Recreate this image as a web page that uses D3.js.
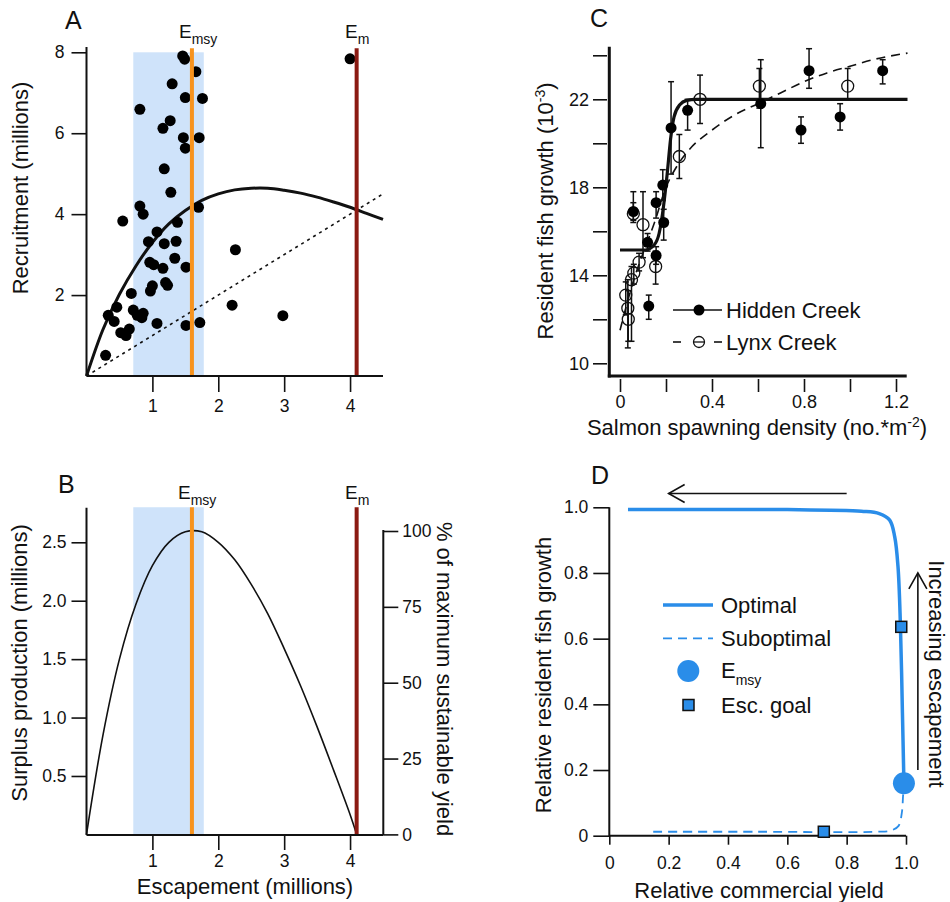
<!DOCTYPE html>
<meta charset="utf-8">
<title>Escapement, yield and resident fish growth</title>
<style>
  body { margin: 0; background: #fff; }
  svg { font-family: "Liberation Sans", Arial, Helvetica, sans-serif; }
  .tick text { font-size: 17.5px; fill: #111; }
  .tick line { stroke: #111; stroke-width: 1.6; }
  .title { font-size: 22px; fill: #111; }
  .letter { font-size: 25px; fill: #111; }
</style>
<svg width="950" height="902"></svg>
<script src="https://d3js.org/d3.v7.min.js"></script>
<script>

// ---- panel A : stock-recruitment ----
var spawners = [1.46, 1.49, 1.66, 1.30, 1.50, 1.76, 0.81, 1.27, 1.16, 1.47, 1.71, 1.50, 1.18, 1.28,
                0.81, 0.86, 1.70, 0.55, 1.38, 1.07, 0.94, 1.36, 1.18, 1.34, 0.96, 1.02, 1.16, 1.51,
                2.26, 1.20, 1.23, 1.00, 0.97, 0.68, 2.21, 0.46, 0.71, 0.86, 0.77, 0.84, 0.33, 0.42,
                2.98, 1.07, 1.51, 1.72, 0.65, 0.52, 0.60, 0.29, 4.00];
var recruits = [7.91, 7.83, 7.52, 7.22, 6.88, 6.86, 6.59, 6.31, 6.12, 5.89, 5.89, 5.63, 5.12, 4.54,
                4.20, 4.00, 4.17, 3.83, 3.80, 3.56, 3.32, 3.33, 3.27, 2.91, 2.81, 2.75, 2.66, 2.69,
                3.12, 2.31, 2.24, 2.23, 2.10, 2.04, 1.75, 1.70, 1.63, 1.55, 1.50, 1.44, 1.50, 1.35,
                1.49, 1.30, 1.25, 1.32, 1.16, 1.07, 1.00, 0.51, 7.84];
var rickerS = [0, 0.25, 0.5, 0.75, 1, 1.25, 1.5, 1.75, 2, 2.25, 2.5, 2.75, 3, 3.25, 3.5, 3.75, 4, 4.25, 4.5];
var rickerR = [0, 1.15, 2.02, 2.72, 3.30, 3.76, 4.09, 4.34, 4.50, 4.60, 4.64, 4.64, 4.59, 4.52, 4.42, 4.30, 4.17, 4.02, 3.87];
var replacement = [0, 4.5];

var emsy = 1.6, em = 4.1, goalLo = 0.71, goalHi = 1.78;

// ---- panel B : surplus production ----
var surplusS = [0, 0.25, 0.5, 0.75, 1, 1.25, 1.5, 1.75, 2, 2.25, 2.5, 2.75, 3, 3.25, 3.5, 3.75, 4, 4.1];
var surplusP = [0, 0.85, 1.50, 1.97, 2.30, 2.50, 2.59, 2.59, 2.50, 2.35, 2.14, 1.89, 1.59, 1.27, 0.92, 0.55, 0.17, 0];
var pctTicks = [0, 25, 50, 75, 100];

// ---- panel C : resident fish growth ----
var hiddenX  = [0.058, 0.12, 0.125, 0.157, 0.157, 0.186, 0.19, 0.222, 0.294, 0.612, 0.787, 0.822, 0.957, 1.142];
var hiddenY  = [16.9, 15.5, 12.6, 17.3, 14.9, 18.1, 16.4, 20.7, 21.5, 21.8, 20.6, 23.3, 21.2, 23.3];
var hiddenLo = [16.5, 15.1, 12.0, 16.6, 14.5, 17.4, 15.6, 18.6, 20.6, 19.8, 20.0, 22.5, 20.6, 22.7];
var hiddenHi = [17.8, 15.9, 13.1, 17.8, 15.3, 18.8, 17.0, 22.8, 22.0, 23.8, 21.2, 24.3, 21.8, 23.8];
var lynxX  = [0.025, 0.034, 0.036, 0.05, 0.06, 0.058, 0.083, 0.10, 0.155, 0.258, 0.348, 0.606, 0.99];
var lynxY  = [13.1, 12.5, 12.0, 13.8, 14.1, 16.8, 14.6, 16.3, 14.4, 19.4, 22.0, 22.6, 22.6];
var lynxLo = [12.2, 10.7, 11.0, 11.0, 13.6, 16.4, 14.2, 14.8, 13.6, 18.4, 20.9, 21.6, 22.0];
var lynxHi = [13.7, 13.8, 13.3, 14.4, 14.5, 17.3, 15.0, 17.8, 15.1, 20.4, 23.1, 23.4, 23.4];
var hiddenFitX = [0, 0.11, 0.15, 0.17, 0.19, 0.205, 0.22, 0.235, 0.26, 0.29, 0.33, 1.25];
var hiddenFitY = [15.15, 15.15, 15.4, 15.9, 17.2, 18.6, 20.2, 21.2, 21.75, 21.95, 22.0, 22.0];
var lynxFitX = [0, 0.03, 0.06, 0.1, 0.15, 0.2, 0.25, 0.3, 0.4, 0.5, 0.6, 0.7, 0.8, 0.9, 1.0, 1.1, 1.25];
var lynxFitY = [11.5, 12.7, 13.8, 15.0, 16.4, 18.0, 19.0, 19.7, 20.6, 21.3, 21.8, 22.3, 22.8, 23.2, 23.5, 23.8, 24.1];
var cTicksX = [0, 0.2, 0.4, 0.6, 0.8, 1.0, 1.2];
var cLabelsX = ["0", "", "0.4", "", "0.8", "", "1.2"];
var cTicksY = [10, 12, 14, 16, 18, 20, 22, 24];
var cLabelsY = ["10", "", "14", "", "18", "", "22", ""];

// ---- panel D : trade-off ----
var optimalX = [0.063, 0.3, 0.6, 0.85, 0.91, 0.945, 0.962, 0.973, 0.981, 0.988, 0.993];
var optimalY = [0.993, 0.993, 0.993, 0.988, 0.981, 0.961, 0.91, 0.82, 0.647, 0.373, 0.16];
var suboptX = [0.148, 0.5, 0.9, 0.95, 0.975, 0.986, 0.99, 0.993];
var suboptY = [0.012, 0.012, 0.012, 0.016, 0.03, 0.07, 0.12, 0.16];
var emsyD = [0.993, 0.16];
var goalX = [0.984, 0.723];
var goalY = [0.636, 0.012];
var dTicks = [0, 0.2, 0.4, 0.6, 0.8, 1.0];
var dLabels = ["0", "0.2", "0.4", "0.6", "0.8", "1.0"];

var orange = "#f7931e", darkRed = "#8b1a12", bandFill = "#cfe3fa", blue = "#2a8de9";

var svg = d3.select("svg");

function hline(g, x1, x2, y, w, c) {
    return g.append("line").attr("x1", x1).attr("x2", x2).attr("y1", y).attr("y2", y)
        .attr("stroke", c || "#111").attr("stroke-width", w);
}
function vline(g, x, y1, y2, w, c) {
    return g.append("line").attr("x1", x).attr("x2", x).attr("y1", y1).attr("y2", y2)
        .attr("stroke", c || "#111").attr("stroke-width", w);
}
function subLabel(g, x, y, main, sub) {
    var t = g.append("text").attr("x", x).attr("y", y).attr("font-size", 19).attr("fill", "#111");
    t.append("tspan").text(main);
    t.append("tspan").attr("dy", 6).attr("font-size", 14).text(sub);
}
function zip(a, b) { return a.map(function(d, i) { return [d, b[i]]; }); }

// ================= A =================
var gA = svg.append("g");
var xA = d3.scaleLinear().domain([0, 4.5]).range([86.5, 383]);
var yA = d3.scaleLinear().domain([0, 8]).range([376, 52.3]);

gA.append("rect").attr("x", xA(goalLo)).attr("width", xA(goalHi) - xA(goalLo))
    .attr("y", yA(8)).attr("height", yA(0) - yA(8)).attr("fill", bandFill);

gA.append("path").datum(replacement)
    .attr("d", d3.line().x(function(d) { return xA(d); }).y(function(d) { return yA(d); }))
    .attr("stroke", "#111").attr("stroke-width", 1.6).attr("stroke-dasharray", "3,4").attr("fill", "none");

gA.append("path").datum(zip(rickerS, rickerR))
    .attr("d", d3.line().x(function(d) { return xA(d[0]); }).y(function(d) { return yA(d[1]); }).curve(d3.curveCatmullRom))
    .attr("stroke", "#111").attr("stroke-width", 3).attr("fill", "none");

gA.selectAll("circle.pt").data(zip(spawners, recruits)).enter().append("circle")
    .attr("cx", function(d) { return xA(d[0]); }).attr("cy", function(d) { return yA(d[1]); })
    .attr("r", 5.5).attr("fill", "#000");

vline(gA, xA(emsy), yA(8.1), yA(0), 4, orange);
vline(gA, xA(em), yA(8.1), yA(0), 4, darkRed);

gA.append("g").attr("transform", "translate(86.5,0)")
    .call(d3.axisLeft(yA).tickValues([2, 4, 6, 8]).tickSize(15).tickPadding(7).tickFormat(d3.format("d")))
    .call(function(g) { g.select(".domain").remove(); });
gA.append("g").attr("transform", "translate(0,376)")
    .call(d3.axisBottom(xA).tickValues([1, 2, 3, 4]).tickSize(16).tickPadding(8).tickFormat(d3.format("d")))
    .call(function(g) { g.select(".domain").remove(); });
vline(gA, 86.5, 376, 47, 2);
hline(gA, 86.5, 383, 376, 2);

subLabel(gA, 179, 38, "E", "msy");
subLabel(gA, 345, 38, "E", "m");
gA.append("text").attr("class", "letter").attr("x", 65).attr("y", 29).text("A");
gA.append("text").attr("class", "title").attr("transform", "translate(28,188) rotate(-90)")
    .attr("text-anchor", "middle").text("Recruitment (millions)");

// ================= B =================
var gB = svg.append("g");
var xB = xA.copy();
var yB = d3.scaleLinear().domain([0, 2.5]).range([834.4, 542.3]);
var yB2 = d3.scaleLinear().domain([0, 100]).range([834.4, 531]);

gB.append("rect").attr("x", xB(goalLo)).attr("width", xB(goalHi) - xB(goalLo))
    .attr("y", yB(2.8)).attr("height", yB(0) - yB(2.8)).attr("fill", bandFill);

gB.append("path").datum(zip(surplusS, surplusP))
    .attr("d", d3.line().x(function(d) { return xB(d[0]); }).y(function(d) { return yB(d[1]); }).curve(d3.curveCatmullRom))
    .attr("stroke", "#111").attr("stroke-width", 1.6).attr("fill", "none");

vline(gB, xB(emsy), yB(2.8), yB(0), 4, orange);
vline(gB, xB(em), yB(2.8), yB(0), 4, darkRed);

gB.append("g").attr("transform", "translate(86.5,0)")
    .call(d3.axisLeft(yB).tickValues([0.5, 1, 1.5, 2, 2.5]).tickSize(15).tickPadding(5).tickFormat(d3.format(".1f")))
    .call(function(g) { g.select(".domain").remove(); });
gB.append("g").attr("transform", "translate(383.3,0)")
    .call(d3.axisRight(yB2).tickValues(pctTicks).tickSize(15).tickPadding(4).tickFormat(d3.format("d")))
    .call(function(g) { g.select(".domain").remove(); });
gB.append("g").attr("transform", "translate(0,835)")
    .call(d3.axisBottom(xB).tickValues([1, 2, 3, 4]).tickSize(15).tickPadding(5).tickFormat(d3.format("d")))
    .call(function(g) { g.select(".domain").remove(); });
vline(gB, 86.5, 835, 507.7, 2);
vline(gB, 383.3, 835, 530, 2);
hline(gB, 86.5, 383.3, 835, 2);

subLabel(gB, 178, 499, "E", "msy");
subLabel(gB, 345, 499, "E", "m");
gB.append("text").attr("class", "letter").attr("x", 58).attr("y", 493).text("B");
gB.append("text").attr("class", "title").attr("transform", "translate(27,663) rotate(-90)")
    .attr("text-anchor", "middle").text("Surplus production (millions)");
gB.append("text").attr("class", "title").attr("transform", "translate(437,679) rotate(90)")
    .attr("text-anchor", "middle").text("% of maximum sustainable yield");
gB.append("text").attr("class", "title").attr("x", 245).attr("y", 894)
    .attr("text-anchor", "middle").text("Escapement (millions)");

// ================= C =================
var gC = svg.append("g");
var xC = d3.scaleLinear().domain([0, 1.2]).range([620, 896]);
var yC = d3.scaleLinear().domain([10, 22]).range([363.3, 99.3]);

var lineC = d3.line().x(function(d) { return xC(d[0]); }).y(function(d) { return yC(d[1]); }).curve(d3.curveMonotoneX);
gC.append("path").datum(zip(lynxFitX, lynxFitY)).attr("d", lineC)
    .attr("stroke", "#111").attr("stroke-width", 1.6).attr("stroke-dasharray", "9,6").attr("fill", "none");
gC.append("path").datum(zip(hiddenFitX, hiddenFitY)).attr("d", lineC)
    .attr("stroke", "#111").attr("stroke-width", 3.2).attr("fill", "none");

function errorBars(xs, ys, lo, hi, open) {
    var d = xs.map(function(x, i) { return { x: x, y: ys[i], lo: lo[i], hi: hi[i] }; });
    var g = gC.append("g");
    var e = g.selectAll("g").data(d).enter().append("g");
    e.append("line").attr("x1", function(d) { return xC(d.x); }).attr("x2", function(d) { return xC(d.x); })
        .attr("y1", function(d) { return yC(d.lo); }).attr("y2", function(d) { return yC(d.hi); })
        .attr("stroke", "#111").attr("stroke-width", 1.5);
    e.append("line").attr("x1", function(d) { return xC(d.x) - 3; }).attr("x2", function(d) { return xC(d.x) + 3; })
        .attr("y1", function(d) { return yC(d.hi); }).attr("y2", function(d) { return yC(d.hi); })
        .attr("stroke", "#111").attr("stroke-width", 1.5);
    e.append("line").attr("x1", function(d) { return xC(d.x) - 3; }).attr("x2", function(d) { return xC(d.x) + 3; })
        .attr("y1", function(d) { return yC(d.lo); }).attr("y2", function(d) { return yC(d.lo); })
        .attr("stroke", "#111").attr("stroke-width", 1.5);
    e.append("circle").attr("cx", function(d) { return xC(d.x); }).attr("cy", function(d) { return yC(d.y); })
        .attr("r", open ? 6 : 5.5)
        .attr("fill", open ? "none" : "#000").attr("stroke", "#111").attr("stroke-width", open ? 1.3 : 0);
}
errorBars(lynxX, lynxY, lynxLo, lynxHi, true);
errorBars(hiddenX, hiddenY, hiddenLo, hiddenHi, false);

gC.append("g").attr("transform", "translate(0,379)")
    .call(d3.axisBottom(xC).tickValues(cTicksX).tickSize(13).tickPadding(3)
        .tickFormat(function(d, i) { return cLabelsX[i]; }))
    .call(function(g) { g.select(".domain").remove(); g.selectAll(".tick line").attr("stroke-width", 2); g.selectAll("text").style("font-size", "18px"); });
gC.append("g").attr("transform", "translate(607,0)")
    .call(d3.axisLeft(yC).tickValues(cTicksY).tickSize(14).tickPadding(4)
        .tickFormat(function(d, i) { return cLabelsY[i]; }))
    .call(function(g) { g.select(".domain").remove(); g.selectAll(".tick line").attr("stroke-width", 2); g.selectAll("text").style("font-size", "18px"); });
vline(gC, 609.3, 377.5, 46.7, 3);
hline(gC, 607.8, 906.7, 376, 3);

// legend C
hline(gC, 673, 722, 310, 1.6);
gC.append("circle").attr("cx", 699).attr("cy", 310).attr("r", 5.5).attr("fill", "#000");
gC.append("text").attr("class", "title").attr("x", 726).attr("y", 318).text("Hidden Creek");
hline(gC, 673, 681, 342, 1.6);
hline(gC, 693, 705, 342, 1.3);
hline(gC, 714, 722, 342, 1.6);
gC.append("circle").attr("cx", 699).attr("cy", 342).attr("r", 5.5).attr("fill", "none").attr("stroke", "#111").attr("stroke-width", 1.3);
gC.append("text").attr("class", "title").attr("x", 726).attr("y", 350).text("Lynx Creek");

gC.append("text").attr("class", "letter").attr("x", 590).attr("y", 27).text("C");
var tCy = gC.append("text").attr("class", "title").attr("transform", "translate(553,211) rotate(-90)")
    .attr("text-anchor", "middle");
tCy.append("tspan").text("Resident fish growth (10");
tCy.append("tspan").attr("dy", -8).attr("font-size", 14).text("-3");
tCy.append("tspan").attr("dy", 8).text(")");
var tCx = gC.append("text").attr("class", "title").attr("x", 757).attr("y", 435).attr("text-anchor", "middle");
tCx.append("tspan").text("Salmon spawning density (no.*m");
tCx.append("tspan").attr("dy", -8).attr("font-size", 14).text("-2");
tCx.append("tspan").attr("dy", 8).text(")");

// ================= D =================
var gD = svg.append("g");
var xD = d3.scaleLinear().domain([0, 1]).range([609.3, 906]);
var yD = d3.scaleLinear().domain([0, 1]).range([835.7, 507.3]);
var lineDx = d3.line().x(function(d) { return xD(d[0]); }).y(function(d) { return yD(d[1]); }).curve(d3.curveCatmullRom);

gD.append("g").attr("transform", "translate(0,835.7)")
    .call(d3.axisBottom(xD).tickValues(dTicks).tickSize(9).tickPadding(12)
        .tickFormat(function(d, i) { return dLabels[i]; }))
    .call(function(g) { g.select(".domain").remove(); });
gD.append("g").attr("transform", "translate(609.3,0)")
    .call(d3.axisLeft(yD).tickValues(dTicks).tickSize(16).tickPadding(5)
        .tickFormat(function(d, i) { return dLabels[i]; }))
    .call(function(g) { g.select(".domain").remove(); });
vline(gD, 609.3, 836.7, 507.3, 2);
hline(gD, 609.3, 906, 835.7, 2);

gD.append("path").datum(zip(suboptX, suboptY)).attr("d", lineDx)
    .attr("stroke", blue).attr("stroke-width", 1.8).attr("stroke-dasharray", "9,6").attr("fill", "none");
gD.append("path").datum(zip(optimalX, optimalY)).attr("d", lineDx)
    .attr("stroke", blue).attr("stroke-width", 3.5).attr("fill", "none");

gD.append("circle").attr("cx", xD(emsyD[0])).attr("cy", yD(emsyD[1])).attr("r", 11).attr("fill", blue);
gD.selectAll("rect.goal").data(zip(goalX, goalY)).enter().append("rect")
    .attr("x", function(d) { return xD(d[0]) - 5.5; }).attr("y", function(d) { return yD(d[1]) - 5.5; })
    .attr("width", 11).attr("height", 11).attr("fill", blue).attr("stroke", "#111").attr("stroke-width", 1.5);

// arrows
hline(gD, xD(0.2), xD(0.8), yD(1.042), 1.6);
gD.append("path").attr("d", "M" + (xD(0.2) + 16) + "," + (yD(1.042) - 9) + "L" + xD(0.2) + "," + yD(1.042) + "L" + (xD(0.2) + 16) + "," + (yD(1.042) + 9))
    .attr("stroke", "#111").attr("stroke-width", 1.6).attr("fill", "none");
vline(gD, xD(1.04), yD(0.2), yD(0.8), 1.6);
gD.append("path").attr("d", "M" + (xD(1.04) - 9) + "," + (yD(0.8) + 16) + "L" + xD(1.04) + "," + yD(0.8) + "L" + (xD(1.04) + 9) + "," + (yD(0.8) + 16))
    .attr("stroke", "#111").attr("stroke-width", 1.6).attr("fill", "none");

// legend D
hline(gD, 663, 713, 605, 3.5, blue);
gD.append("text").attr("class", "title").attr("x", 721).attr("y", 613).text("Optimal");
hline(gD, 663, 713, 638.3, 1.8, blue).attr("stroke-dasharray", "9,6");
gD.append("text").attr("class", "title").attr("x", 721).attr("y", 646).text("Suboptimal");
gD.append("circle").attr("cx", 688.3).attr("cy", 671).attr("r", 11).attr("fill", blue);
var tE = gD.append("text").attr("class", "title").attr("x", 721).attr("y", 678);
tE.append("tspan").text("E");
tE.append("tspan").attr("dy", 7).attr("font-size", 14).text("msy");
gD.append("rect").attr("x", 683).attr("y", 699.5).attr("width", 11).attr("height", 11)
    .attr("fill", blue).attr("stroke", "#111").attr("stroke-width", 1.5);
gD.append("text").attr("class", "title").attr("x", 721).attr("y", 713).text("Esc. goal");

gD.append("text").attr("class", "letter").attr("x", 591).attr("y", 484).text("D");
gD.append("text").attr("class", "title").attr("transform", "translate(551,675) rotate(-90)")
    .attr("text-anchor", "middle").text("Relative resident fish growth");
gD.append("text").attr("class", "title").attr("x", 759).attr("y", 898)
    .attr("text-anchor", "middle").text("Relative commercial yield");
gD.append("text").attr("class", "title").attr("transform", "translate(929,674) rotate(90)")
    .attr("text-anchor", "middle").text("Increasing escapement");

</script>
